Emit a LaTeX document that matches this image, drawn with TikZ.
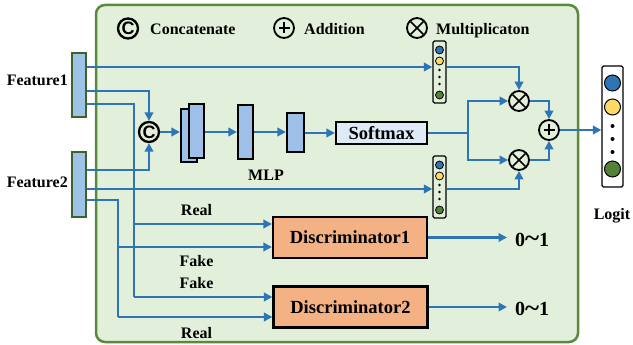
\documentclass[tikz,border=0pt]{standalone}
\usepackage{fontspec}
\usepackage{graphicx}
\setmainfont{Liberation Serif}
\newfontfamily\symsans{Liberation Sans}
\usetikzlibrary{arrows.meta,calc}
\definecolor{panelfill}{HTML}{E2EFDA}
\definecolor{panelline}{HTML}{5A8A3A}
\definecolor{featfill}{HTML}{9DC3E6}
\definecolor{featline}{HTML}{3F6228}
\definecolor{lineblue}{HTML}{2E75B6}
\definecolor{mlpfill}{HTML}{9DBFE8}
\definecolor{smfill}{HTML}{DEEBF7}
\definecolor{discfill}{HTML}{F4B183}
\definecolor{cblue}{HTML}{2E75B6}
\definecolor{cyellow}{HTML}{FFD966}
\definecolor{cgreen}{HTML}{548235}
\tikzset{
  txt/.style={inner sep=0pt, font=\bfseries\fontsize{16}{18}\selectfont},
  ln/.style={draw=lineblue, line width=2.9pt},
  arr/.style={ln, -{Triangle[length=8.5pt,width=8.5pt]}},
  featbar/.style={draw=featline, fill=featfill, line width=2pt, minimum width=14pt, inner sep=0pt},
  mlpbox/.style={draw=black, fill=mlpfill, line width=2.2pt, inner sep=0pt},
  opcirc/.style={circle, draw=black, line width=1.8pt, minimum size=20pt, inner sep=0pt},
  ccirc/.style={opcirc, line width=2.3pt, font=\symsans\bfseries\fontsize{18}{18}\selectfont},
  vecbox/.style={draw=black, line width=1.3pt, rounded corners=1.5pt, inner sep=0pt},
  discbox/.style={draw=black, fill=discfill, line width=2.2pt, minimum width=154pt, minimum height=41pt, inner sep=0pt, font=\bfseries\fontsize{18.5}{20}\selectfont},
}
\newcommand{\plusmark}[1]{\draw[line width=1.6pt] ($(#1)+(-5.5,0)$) -- ($(#1)+(5.5,0)$) ($(#1)+(0,-5.5)$) -- ($(#1)+(0,5.5)$);}
\newcommand{\crossmark}[1]{\draw[line width=1.6pt] ($(#1)+(-6.5,-6.5)$) -- ($(#1)+(6.5,6.5)$) ($(#1)+(-6.5,6.5)$) -- ($(#1)+(6.5,-6.5)$);}
\newcommand{\zeroone}{0\raisebox{-0.05em}{\scalebox{1.35}[1.25]{\char"7E}}1}
\begin{document}
\begin{tikzpicture}[x=1pt,y=-1pt]
\useasboundingbox (0,0) rectangle (633,345);
% panel
\draw[draw=panelline, fill=panelfill, line width=2.5pt, rounded corners=9pt] (96,5) rectangle (578,342);

% legend
\node[ccirc] (lc) at (128,28.5) {C};
\node[txt, anchor=base west] (lct) at (150,35) {Concatenate};
\node[opcirc] (la) at (284,28) {};
\plusmark{la}
\node[txt, anchor=base west] (lat) at (304,35) {Addition};
\node[opcirc] (lm) at (417,28) {};
\crossmark{lm}
\node[txt, anchor=base west] (lmt) at (436,35) {Multiplicaton};

% features
\node[featbar, minimum height=64pt] (f1) at (79,85) {};
\node[featbar, minimum height=65pt] (f2) at (79,184.5) {};
\node[txt, anchor=base east] (f1t) at (68,86) {Feature1};
\node[txt, anchor=base east] (f2t) at (68,187) {Feature2};

% concat
\node[ccirc] (cc) at (149,132) {C};

% MLP
\node[mlpbox, minimum width=16pt, minimum height=53pt] (m1b) at (189,135.5) {};
\node[mlpbox, minimum width=15pt, minimum height=54pt] (m1f) at (196.5,131) {};
\node[mlpbox, minimum width=15pt, minimum height=54pt] (m2) at (245.5,132) {};
\node[mlpbox, minimum width=17pt, minimum height=39pt] (m3) at (295.5,132.5) {};
\node[txt, anchor=base] (mlpt) at (266,180) {MLP};
\node[draw=black, fill=smfill, line width=2.2pt, minimum width=91pt, minimum height=22pt, inner sep=0pt, font=\bfseries\fontsize{18.5}{20}\selectfont] (sm) at (381.5,133) {Softmax};

% small vectors
\node[vecbox, minimum width=13pt, minimum height=62pt] (v1) at (439.5,72) {};
\node[vecbox, minimum width=13pt, minimum height=62pt] (v2) at (439.5,187) {};
\foreach \v/\t in {v1/50, v2/165} {
  \draw[fill=cblue, line width=0.8pt] (439.5,\t) circle (4);
  \draw[fill=cyellow, line width=0.8pt] (439.5,\t+11) circle (4);
  \fill (439.5,\t+20) circle (1.3) (439.5,\t+27) circle (1.3) (439.5,\t+34) circle (1.3);
  \draw[fill=cgreen, line width=0.8pt] (439.5,\t+45) circle (4);
}

% operations
\node[opcirc] (mul1) at (519,101) {};
\crossmark{mul1}
\node[opcirc] (mul2) at (519,160) {};
\crossmark{mul2}
\node[opcirc] (add) at (549,130) {};
\plusmark{add}

% output vector
\node[vecbox, fill=white, minimum width=21pt, minimum height=121pt] (out) at (612.5,126.5) {};
\draw[fill=cblue, line width=1pt] (612.5,83) circle (8);
\draw[fill=cyellow, line width=1pt] (612.5,107) circle (8);
\fill (612.5,126) circle (2) (612.5,139) circle (2) (612.5,152) circle (2);
\draw[fill=cgreen, line width=1pt] (612.5,169) circle (8);
\node[txt, anchor=base] (logit) at (612,219) {Logit};

% discriminators
\node[discbox] (d1) at (350,237.5) {Discriminator1};
\node[discbox] (d2) at (350.5,307) {Discriminator2};
\node[txt, anchor=base west, font=\bfseries\fontsize{20}{22}\selectfont] (o1) at (515,246) {\zeroone};
\node[txt, anchor=base west, font=\bfseries\fontsize{20}{22}\selectfont] (o2) at (515,315) {\zeroone};

% labels
\node[txt, anchor=base] (r1) at (196.5,215) {Real};
\node[txt, anchor=base] (k1) at (196.5,266) {Fake};
\node[txt, anchor=base] (k2) at (196.5,288) {Fake};
\node[txt, anchor=base] (r2) at (196.5,338) {Real};

% connectors
\coordinate (j1a) at (134,224);
\coordinate (j1b) at (134,297);
\coordinate (j2a) at (118,247);
\coordinate (j2b) at (118,317);
\coordinate (sp) at (468,133);

\draw[arr] (f1.east |- 0,67) -- (v1.west |- 0,67);
\draw[arr] (f1.east |- 0,91) -| (cc.north);
\draw[ln] (f1.east |- 0,104) -| (j1b);
\draw[arr] (j1a) -- (d1.west |- j1a);
\draw[arr] (j1b) -- (d2.west |- j1b);

\draw[arr] (f2.east |- 0,170) -| (cc.south);
\draw[arr] (f2.east |- 0,189) -- (v2.west |- 0,189);
\draw[ln] (f2.east |- 0,200) -| (j2b);
\draw[arr] (j2a) -- (d1.west |- j2a);
\draw[arr] (j2b) -- (d2.west |- j2b);

\draw[arr] (cc.east) -- (cc.east -| m1b.west);
\draw[arr] (m1f.east |- 0,132) -- (m2.west |- 0,132);
\draw[arr] (m2.east |- 0,132) -- (m3.west |- 0,132);
\draw[arr] (m3.east |- 0,133) -- (sm.west);
\draw[ln] (sm.east) -- (sp);
\draw[arr] (sp) |- (mul1.west);
\draw[arr] (sp) |- (mul2.west);
\draw[arr] (v1.east |- 0,67) -| (mul1.north);
\draw[arr] (v2.east |- 0,189) -| (mul2.south);
\draw[arr] (mul1.east) -| (add.north);
\draw[arr] (mul2.east) -| (add.south);
\draw[arr] (add.east) -- (out.west |- add.east);
\draw[arr] (d1.east) -- (507,237.5);
\draw[arr] (d2.east) -- (507,307);
\end{tikzpicture}
\end{document}
